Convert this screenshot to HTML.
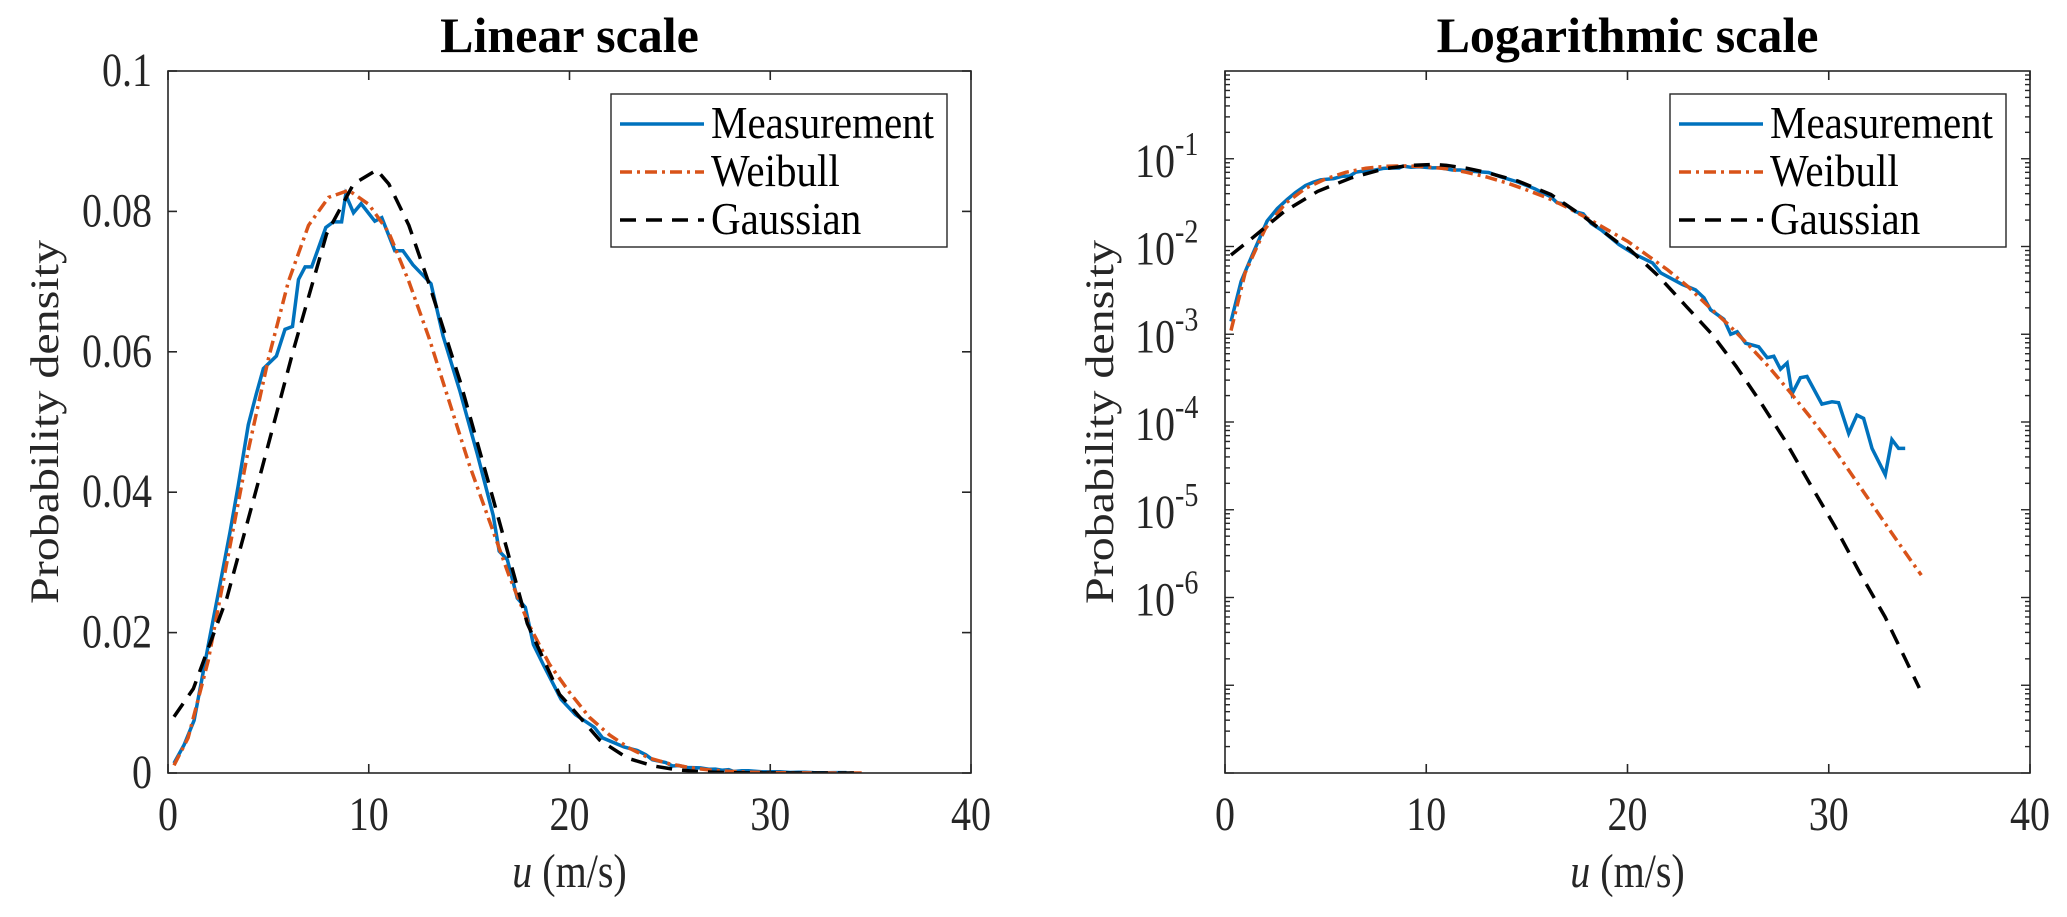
<!DOCTYPE html>
<html><head><meta charset="utf-8">
<style>
html,body{margin:0;padding:0;background:#fff;}
svg{display:block;font-family:"Liberation Serif",serif;}
</style></head>
<body>
<svg id="fig" width="2067" height="917" viewBox="0 0 2067 917" xmlns="http://www.w3.org/2000/svg">
<rect x="0" y="0" width="2067" height="917" fill="#fff"/>
<g id="left"></g>
<g id="right"></g>
</svg>
<script>
const measX=[0.3,0.8,1.3,2.09,2.6,3.09,3.5,4.0,4.4,4.75,5.4,5.83,6.2,6.5,6.83,7.16,7.86,8.24,8.65,8.85,9.24,9.62,10.3,10.65,11.3,11.7,12.2,13.1,13.7,14.55,15.4,16.2,16.5,16.9,17.4,17.8,18.2,18.7,19.58,20.3,21.24,21.65,22.72,23.38,23.8,24.13,24.79,25.13,25.45,25.87,26.52,26.94,27.27,27.6,27.93,28.18,28.59,28.92,29.66,30.16,30.49,30.99,31.4,31.73,32.15,32.81,33.14,33.47,33.8];
const measY=[0.0014,0.004,0.0075,0.0195,0.027,0.0343,0.041,0.0496,0.054,0.0576,0.0594,0.0632,0.0636,0.0703,0.0721,0.0721,0.0777,0.0785,0.0785,0.0824,0.0798,0.0811,0.0786,0.0791,0.0744,0.0744,0.0724,0.0697,0.0623,0.0543,0.0455,0.0367,0.0316,0.0304,0.0249,0.0236,0.0183,0.0154,0.0105,0.0083,0.0065,0.005,0.0037,0.0032,0.0026,0.0019,0.00148,0.001,0.00107,0.00079,0.00072,0.00054,0.00056,0.0004,0.00047,0.00021,0.00032,0.00033,0.00016,0.00017,0.000166,0.000074,0.00012,0.00011,0.00005,0.000025,0.000063,0.00005,0.00005];
const weibX=[0.3,1,2,3,4,5,6,7,8,9,10,11,12,13,14,15,16,17,18,19,20,21,22,23,24,25,26,27,28,29,30,31,32,33,34,34.6];
const weibY=[0.0011,0.005,0.016,0.031,0.046,0.059,0.070,0.078,0.082,0.083,0.081,0.077,0.070,0.062,0.053,0.044,0.036,0.028,0.021,0.0155,0.0115,0.0079,0.0054,0.0035,0.0021,0.0013,0.00076,0.00043,0.00023,0.00012,0.00006,0.000028,0.000013,0.000006,0.0000028,0.0000018];
const gausX=[0.3,1.26,2.93,4.6,6.24,7.9,9.24,10.4,11.0,12.0,13.0,14.55,16.2,17.9,19.5,20.1,21.5,22.9,24.2,25.4,26.6,27.8,29,30.3,31.5,32.8,34.5];
const gausY=[0.008,0.012,0.0249,0.0425,0.0602,0.0768,0.0839,0.0859,0.0839,0.078,0.0697,0.0558,0.039,0.0213,0.0112,0.0093,0.0047,0.0021,0.001,0.00043,0.00017,0.000063,0.000021,0.0000065,0.000002,0.0000006,0.000000093];
const xTicks=[0,10,20,30,40];
const linTicks=[0,0.02,0.04,0.06,0.08,0.1];
const linTickLabels=["0","0.02","0.04","0.06","0.08","0.1"];
const logTicks=[-6,-5,-4,-3,-2,-1];
const legendLabels=["Measurement","Weibull","Gaussian"];

const NS="http://www.w3.org/2000/svg";
function mk(parent,tag,attrs){const e=document.createElementNS(NS,tag);for(const k in attrs)e.setAttribute(k,attrs[k]);parent.appendChild(e);return e;}
function txt(parent,x,y,str,size,anchor,extra){
  const a={x:0,y:0,"font-size":size,"text-anchor":anchor,fill:"#262626",transform:"translate("+x+","+y+") "+(extra||"scale(1,1.2)")};
  const e=mk(parent,"text",a);e.textContent=str;return e;
}
const TOP=71,BOT=773;
const styles=[
 {stroke:"#0072BD",dash:"none"},
 {stroke:"#D95319",dash:"12 5 3 5"},
 {stroke:"#000000",dash:"16 10"}];

function panel(g,L,R,isLog,title){
  const sx=v=>L+(v/40)*(R-L);
  const sy=isLog?(v=>TOP+(0-Math.log10(v))/8*(BOT-TOP)):(v=>BOT-(v/0.1)*(BOT-TOP));
  const cid="clip"+(isLog?"R":"L");
  const cp=mk(g,"clipPath",{id:cid});mk(cp,"rect",{x:L,y:TOP,width:R-L,height:BOT-TOP});
  const series=[[measX,measY,"measurement-line"],[weibX,weibY,"weibull-line"],[gausX,gausY,"gaussian-line"]];
  series.forEach((s,i)=>{
    const d=s[0].map((x,j)=>(j?"L":"M")+sx(x).toFixed(1)+" "+sy(s[1][j]).toFixed(1)).join(" ");
    const p=mk(g,"path",{d:d,fill:"none",stroke:styles[i].stroke,"stroke-width":3.5,"stroke-dasharray":styles[i].dash,"clip-path":"url(#"+cid+")"});
    
    
  });
  const box=mk(g,"rect",{x:L,y:TOP,width:R-L,height:BOT-TOP,fill:"none",stroke:"#262626","stroke-width":1.6});
  
  
  xTicks.forEach(t=>{
    const x=sx(t);
    mk(g,"line",{x1:x,y1:BOT,x2:x,y2:BOT-9,stroke:"#262626","stroke-width":1.6});
    mk(g,"line",{x1:x,y1:TOP,x2:x,y2:TOP+9,stroke:"#262626","stroke-width":1.6});
    const tx=txt(g,x,830,String(t),40,"middle");
    
    
  });
  if(!isLog){
    linTicks.forEach((t,i)=>{
      const y=sy(t);
      mk(g,"line",{x1:L,y1:y,x2:L+9,y2:y,stroke:"#262626","stroke-width":1.6});
      mk(g,"line",{x1:R,y1:y,x2:R-9,y2:y,stroke:"#262626","stroke-width":1.6});
      const tx=txt(g,L-16,y+15,linTickLabels[i],40,"end");
      
      
    });
  } else {
    for(let d=-8;d<0;d++){
      for(let m=1;m<10;m++){
        const v=m*Math.pow(10,d);const y=sy(v);const len=m===1?9:5;
        mk(g,"line",{x1:L,y1:y,x2:L+len,y2:y,stroke:"#262626","stroke-width":1.4});
        mk(g,"line",{x1:R,y1:y,x2:R-len,y2:y,stroke:"#262626","stroke-width":1.4});
      }
    }
    logTicks.forEach(t=>{
      const y=sy(Math.pow(10,t));
      const tx=txt(g,L-50,y+18,"10",40,"end");
      
      
      const sp=txt(g,L-50,y-4,String(t),28,"start");
      
      
    });
  }
  const ti=mk(g,"text",{x:(L+R)/2,y:52,"font-size":50,"font-weight":"bold","text-anchor":"middle",fill:"#000"});
  ti.textContent=title;
  
  
  const xl=mk(g,"text",{x:0,y:0,"font-size":40,"text-anchor":"middle",fill:"#262626",transform:"translate("+((L+R)/2)+",887) scale(1,1.2)"});
  const u=mk(xl,"tspan",{"font-style":"italic"});u.textContent="u";
  const rest=mk(xl,"tspan",{});rest.textContent=" (m/s)";
  
  
  const yx=isLog?L-112:L-110;
  const yl=mk(g,"text",{x:0,y:0,"font-size":40,"text-anchor":"middle",fill:"#262626",transform:"translate("+yx+","+((TOP+BOT)/2)+") rotate(-90) scale(1.2,1)"});
  yl.textContent="Probability density";
  
  
  const lg=mk(g,"g",{});
  
  
  const lx=R-360, ly=94;
  mk(lg,"rect",{x:lx,y:ly,width:336,height:153,fill:"#fff",stroke:"#262626","stroke-width":1.4});
  legendLabels.forEach((lab,i)=>{
    const cy=ly+30+i*48;
    const ln=mk(lg,"line",{x1:lx+9,y1:cy,x2:lx+93,y2:cy,stroke:styles[i].stroke,"stroke-width":3.5,"stroke-dasharray":styles[i].dash});
    
    
    const tx=mk(lg,"text",{x:0,y:0,"font-size":41,fill:"#000",transform:"translate("+(lx+100)+","+(cy+14)+") scale(1,1.1)"});
    tx.textContent=lab;
    
    
  });
}
panel(document.getElementById("left"),168,971,false,"Linear scale");
panel(document.getElementById("right"),1225,2030,true,"Logarithmic scale");
</script>
</body></html>
